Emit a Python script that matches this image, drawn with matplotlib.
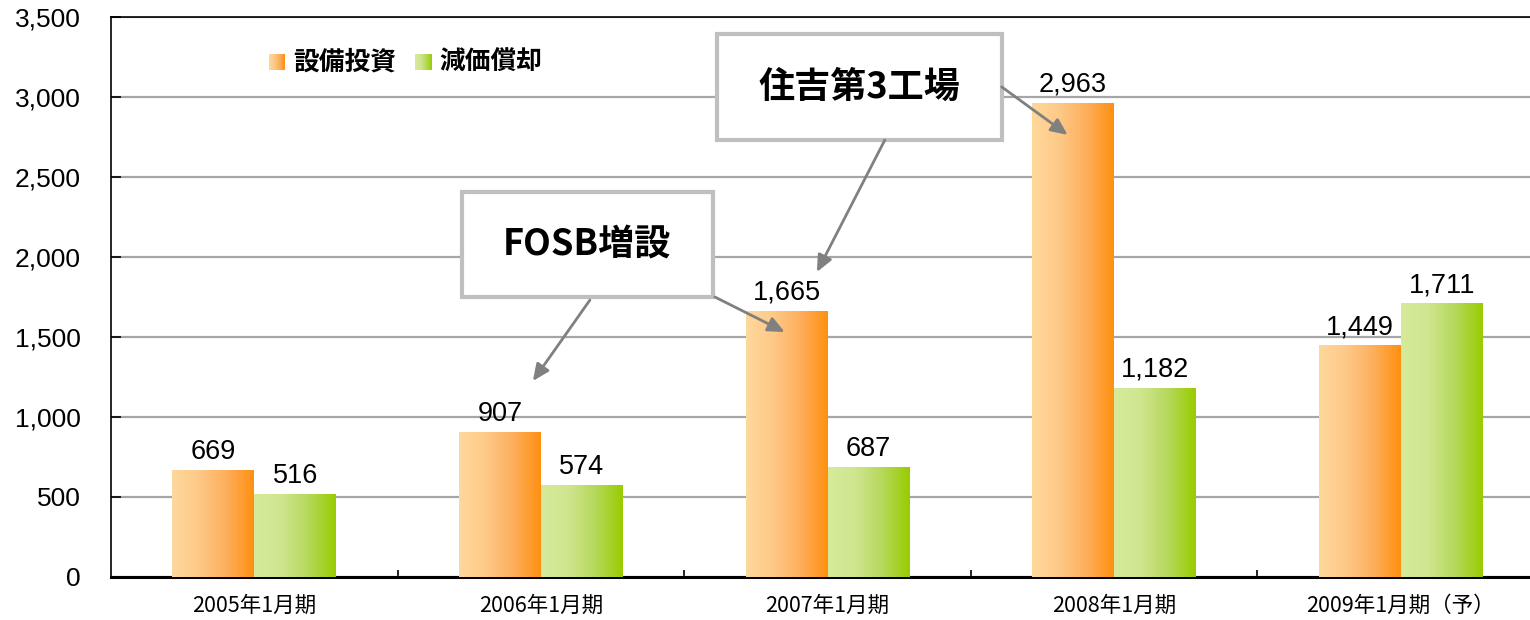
import numpy as np
import matplotlib
matplotlib.use('Agg')
import matplotlib.pyplot as plt
from matplotlib.patches import Rectangle
from matplotlib.colors import LinearSegmentedColormap

plt.rcParams['font.family'] = ['Noto Sans CJK JP', 'DejaVu Sans']

# data
periods = ['2005年1月期', '2006年1月期', '2007年1月期', '2008年1月期', '2009年1月期（予）']
capex = [669, 907, 1665, 2963, 1449]        # 設備投資
depreciation = [516, 574, 687, 1182, 1711]  # 減価償却
series_names = ['設備投資', '減価償却']

orange = LinearSegmentedColormap.from_list('o', ['#FFD89C', '#FEC987', '#FDAE5C', '#FF9010'])
green = LinearSegmentedColormap.from_list('g', ['#D6EB9A', '#CFE58F', '#B5D85A', '#99CC00'])
grad = np.linspace(0, 1, 256).reshape(1, -1)

fig = plt.figure(figsize=(15.3, 6.2), dpi=100)
ax = fig.add_axes([111 / 1530, 43 / 620, 1433 / 1530, 560 / 620])

x = np.arange(len(periods))
w = 0.286


def gradient_bars(xs, vals, cmap):
    bars = ax.bar(xs, vals, w, color='none', edgecolor='none', zorder=3)
    for b in bars:
        im = ax.imshow(grad, cmap=cmap, aspect='auto', zorder=3,
                       extent=(b.get_x(), b.get_x() + b.get_width(), 0, b.get_height()))
        im.set_clip_path(b)
    return bars


gradient_bars(x - w / 2, capex, orange)
gradient_bars(x + w / 2, depreciation, green)

num_font = ['Liberation Sans', 'DejaVu Sans']
for xs, vals in [(x - w / 2, capex), (x + w / 2, depreciation)]:
    for xi, v in zip(xs, vals):
        ax.annotate(f'{v:,}', (xi, v), xytext=(0, 8), textcoords='offset points',
                    ha='center', va='baseline', fontsize=19.5, family=num_font, zorder=5)

ax.set_xlim(-0.5, len(periods) - 0.5)
ax.set_ylim(0, 3500)
ax.set_yticks(np.arange(0, 3501, 500))
ax.set_yticklabels([f'{t:,}' for t in range(0, 3501, 500)],
                   family=['Liberation Sans', 'DejaVu Sans'], fontsize=19)
ax.tick_params(axis='y', direction='in', length=7, width=1.2, pad=22)
ax.set_xticks(x)
ax.set_xticklabels(periods, fontsize=15.5)
ax.tick_params(axis='x', length=0, pad=13)
ax.set_xticks(np.arange(0.5, len(periods) - 0.5), minor=True)
ax.tick_params(axis='x', which='minor', direction='in', length=5, width=1.2)
ax.grid(axis='y', color='#a6a6a6', lw=1.6, zorder=1)
ax.set_axisbelow(True)
for s in ['left', 'top']:
    ax.spines[s].set_linewidth(1.2)
ax.spines['bottom'].set_linewidth(2.2)
ax.spines['right'].set_visible(False)

# legend with gradient squares
for i, (name, cmap) in enumerate(zip(series_names, [orange, green])):
    lx = [269, 415][i]
    sq = fig.add_axes([lx / 1530, (620 - 70) / 620, 16 / 1530, 16 / 620])
    sq.imshow(grad, cmap=cmap, aspect='auto')
    sq.axis('off')
    fig.text((lx + 24) / 1530, (620 - 62) / 620, name, fontsize=18.5,
             fontweight='bold', va='center', ha='left')

# callout boxes
boxes = [((0.724, 1750), 0.876, 656, 'FOSB増設'),
         ((1.614, 2731), 0.994, 663, '住吉第3工場')]
for (bx, by), bw, bh, label in boxes:
    ax.add_patch(Rectangle((bx, by), bw, bh, facecolor='white', edgecolor='#bfbfbf',
                           lw=3, zorder=6))
    ax.text(bx + bw / 2, by + bh / 2, label, ha='center', va='center', fontsize=26,
            fontweight='bold', zorder=7)

arrows = [((1.171, 1731), (0.972, 1225)),
          ((1.607, 1750), (1.851, 1531)),
          ((2.200, 2731), (1.963, 1906)),
          ((2.608, 3063), (2.838, 2763))]
for start, end in arrows:
    ax.annotate('', xy=end, xytext=start, zorder=8,
                arrowprops=dict(arrowstyle='-|>,head_length=1.0,head_width=0.45',
                                color='#808080', lw=2, shrinkA=0, shrinkB=0))

fig.savefig('out.png', dpi=100)
